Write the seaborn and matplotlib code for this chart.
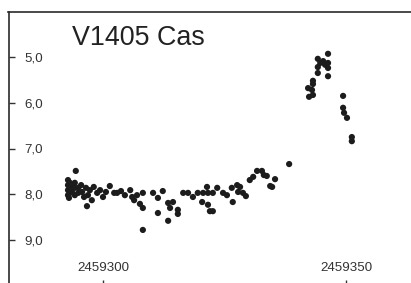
import matplotlib
matplotlib.use("Agg")
import matplotlib.pyplot as plt
import seaborn as sns
import pandas as pd

sns.set_style("white")
plt.rcParams["font.family"] = ["Liberation Sans", "DejaVu Sans"]

# Julian dates (offset from 2459300) and visual magnitudes
jd_offset = [
    -7.2, -7.2, -7.2, -7.2, -7.0, -6.8, -6.8, -6.8, -6.4, -6.4,
    -5.6, -5.8, -5.8, -5.8, -5.1, -5.1, -4.5, -4.3, -3.9, -3.5,
    -3.3, -3.1, -2.7, -2.3, -1.9, -1.2, -0.6, 0.0, 0.6, 1.4,
    2.3, 2.9, 3.7, 4.5, 5.6, 6.0, 6.4, 7.0, 7.6,
    8.2, 8.2, 8.2, 10.3, 11.3, 12.3, 11.3, 13.4, 14.4, 13.8,
    15.4, 15.4, 13.4, 16.5, 17.5, 18.5, 19.5, 20.6, 21.6, 21.4,
    20.4, 21.6, 22.0, 22.6, 22.6, 23.5, 24.7, 25.5, 26.5, 27.6,
    28.2, 27.8, 28.8, 29.4, 26.7, 30.2, 30.9, 31.7, 32.7, 33.1,
    33.7, 34.4, 35.4, 34.8, 38.3,
    42.2, 42.4, 43.0, 43.2, 43.2, 43.2, 44.2, 44.2, 44.2, 44.7,
    45.3, 45.7, 46.3, 46.3, 46.3, 46.3,
    49.4, 49.4, 49.6, 50.2, 51.2, 51.2,
]
magnitude = [
    7.69, 7.80, 7.91, 8.02, 8.08, 7.75, 7.86, 7.97, 7.82, 7.95,
    7.49, 7.75, 7.86, 8.02, 7.86, 7.97, 7.80, 7.95, 8.06, 7.86,
    8.26, 8.02, 7.91, 8.13, 7.84, 7.97, 7.91, 8.06, 7.95, 7.82,
    7.97, 7.97, 7.93, 8.02, 7.91, 8.06, 8.13, 8.02, 8.21,
    7.97, 8.30, 8.78, 7.97, 8.08, 7.93, 8.41, 8.19, 8.17, 8.30,
    8.34, 8.43, 8.58, 7.97, 7.97, 8.06, 7.97, 7.97, 7.97, 7.84,
    8.17, 8.23, 8.37, 8.37, 7.97, 7.86, 7.97, 8.02, 7.86, 7.80,
    7.84, 7.95, 7.97, 8.04, 8.17, 7.69, 7.62, 7.49, 7.49, 7.58,
    7.60, 7.82, 7.67, 7.84, 7.34,
    5.68, 5.87, 5.72, 5.52, 5.59, 5.83, 5.04, 5.22, 5.35, 5.13,
    5.09, 5.17, 4.93, 5.13, 5.24, 5.42,
    5.85, 6.11, 6.22, 6.33, 6.75, 6.84,
]
jd_base = 2459300
y_ticks = [5, 6, 7, 8, 9]
y_tick_labels = ["5,0", "6,0", "7,0", "8,0", "9,0"]
x_ticks = [2459300, 2459350]
x_tick_labels = ["2459300", "2459350"]
title_text = "V1405 Cas"

df = pd.DataFrame({"JD": [jd_base + d for d in jd_offset], "mag": magnitude})

W, H = 411, 283
fig = plt.figure(figsize=(W / 100, H / 100), dpi=100)
fig.patch.set_facecolor("white")

# axes geometry: left spine at x=8.5px, top spine y=11.5px
x_left_px, y_top_px = 8.5, 11.5
px_per_day = 4.86
px_per_mag = 45.75
xmin = 2459300 - (103 - x_left_px) / px_per_day
xmax = 2459366
ymin_mag = 5.0 - (57 - y_top_px) / px_per_mag
ymax_mag = 10.0
ax_w_px = (xmax - xmin) * px_per_day
ax_h_px = (ymax_mag - ymin_mag) * px_per_mag
bottom_px = y_top_px + ax_h_px
ax = fig.add_axes([x_left_px / W, (H - bottom_px) / H, ax_w_px / W, ax_h_px / H])

sns.scatterplot(data=df, x="JD", y="mag", ax=ax, color="#1c1c1c", s=20,
                edgecolor="none", legend=False, zorder=3)

ax.set_xlim(xmin, xmax)
ax.set_ylim(ymax_mag, ymin_mag)
ax.set_xlabel("")
ax.set_ylabel("")
ax.set_yticks(y_ticks)
ax.set_yticklabels(y_tick_labels)
ax.set_xticks(x_ticks)
ax.set_xticklabels(x_tick_labels)

for side in ["left", "top", "right", "bottom"]:
    ax.spines[side].set_visible(True)
    ax.spines[side].set_color("#2a2a2a")
    ax.spines[side].set_linewidth(1.2)

ax.tick_params(axis="y", direction="in", length=4.5, width=1.0, color="#333333",
               labelsize=9.6, labelcolor="#333333", pad=-11.2, left=True)
for lab in ax.get_yticklabels():
    lab.set_horizontalalignment("left")
ax.tick_params(axis="x", direction="in", length=4.5, width=1.0, color="#333333",
               labelsize=9.6, labelcolor="#333333", pad=-13.0, bottom=True)
for lab in ax.get_xticklabels():
    lab.set_verticalalignment("center")

fig.text(72 / W, 1 - 45 / H, title_text, fontsize=19.4, color="#222222",
         ha="left", va="baseline")

fig.savefig("out.png", dpi=100)
